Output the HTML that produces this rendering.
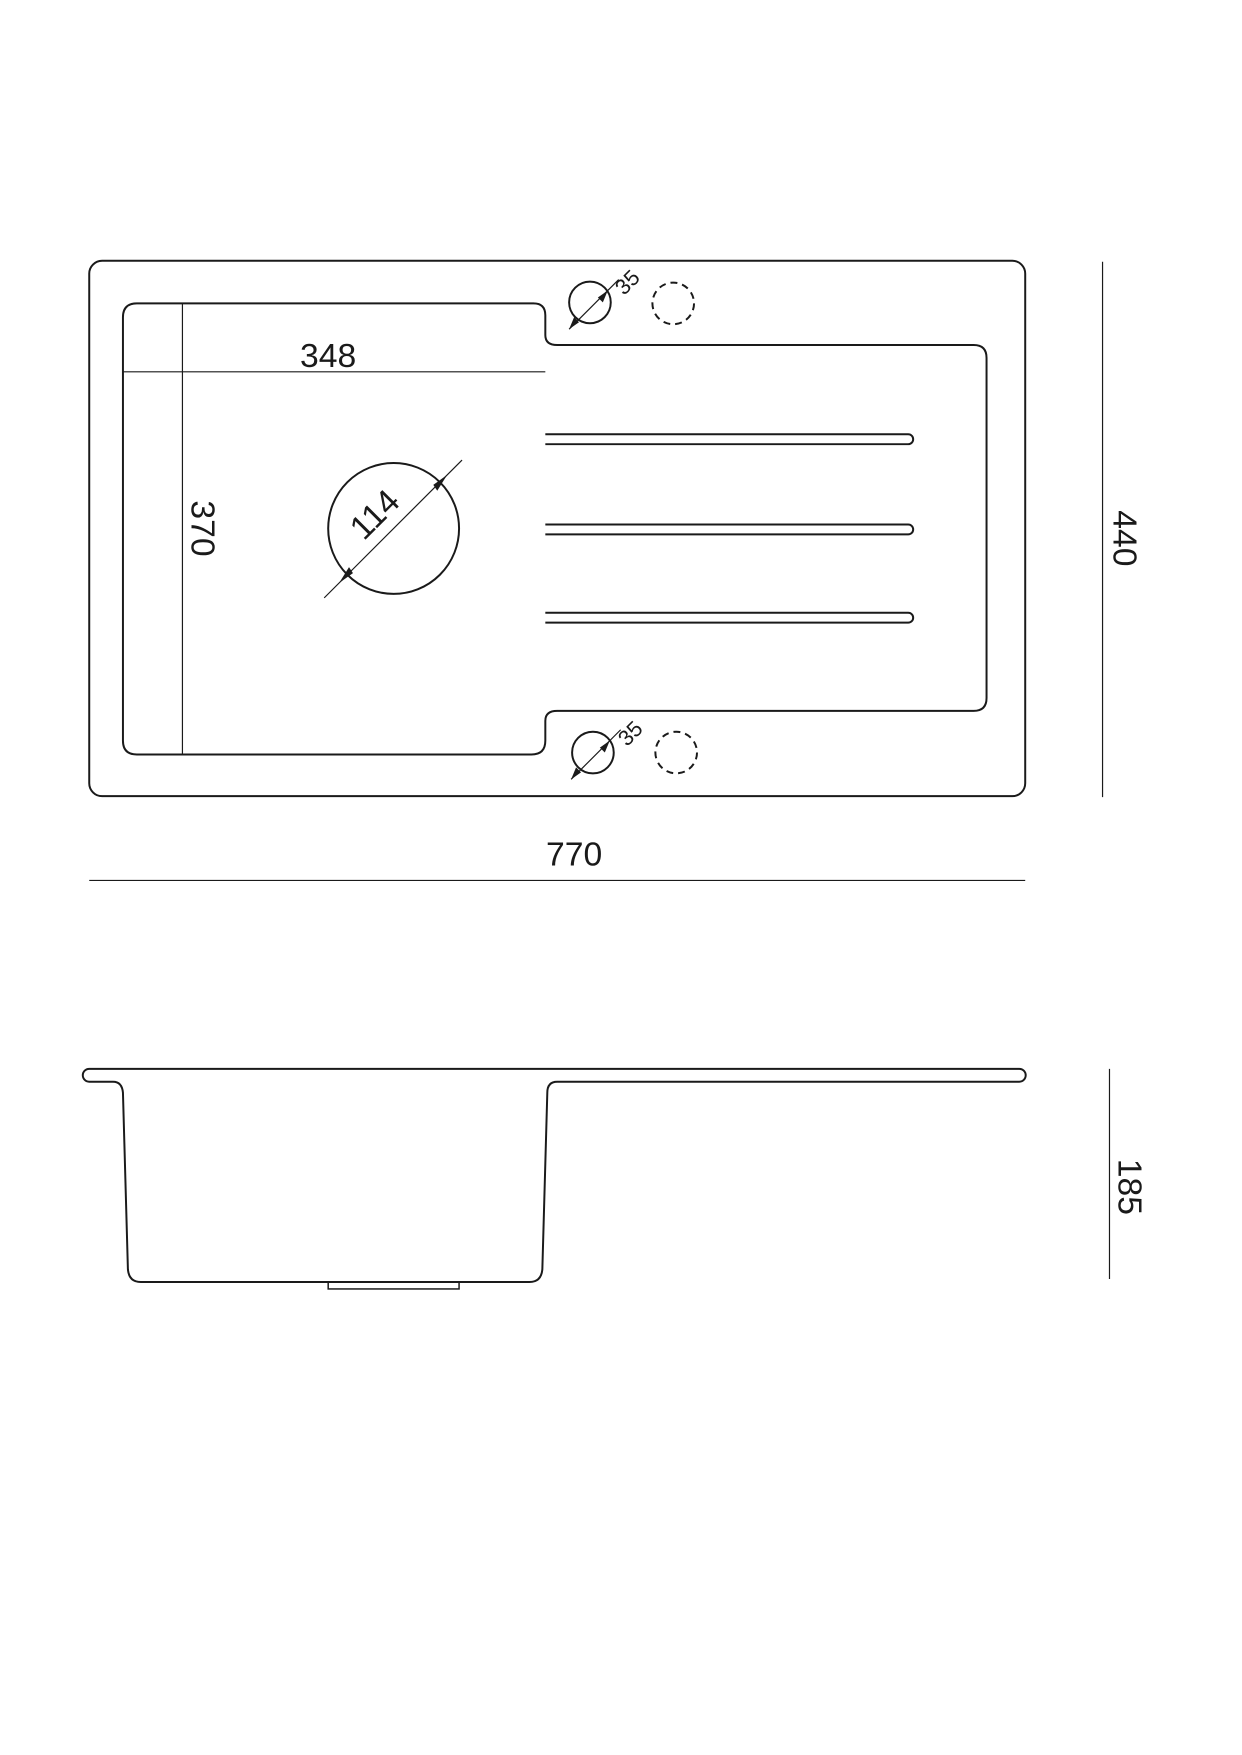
<!DOCTYPE html>
<html><head><style>body{margin:0;background:#fff}svg{display:block}</style></head><body>
<svg width="1242" height="1755" viewBox="0 0 1242 1755" xmlns="http://www.w3.org/2000/svg" font-family="Liberation Sans, sans-serif">
<g transform="scale(0.9915)">
<g fill="none" stroke="#1a1a1a" stroke-width="2">
<rect x="90" y="263" width="944" height="540" rx="13"/>
<path d="M138 306 H538 Q550 306 550 318 V338 Q550 348 562 348 H982 Q995 348 995 361 V704 Q995 717 982 717 H562 Q550 717 550 727 V747 Q550 761 536 761 H138 Q124 761 124 747 V320 Q124 306 138 306 Z"/>
<path d="M550 438 H916 a5 5 0 0 1 0 10 H550"/>
<path d="M550 529 H916 a5 5 0 0 1 0 10 H550"/>
<path d="M550 618 H916 a5 5 0 0 1 0 10 H550"/>
<circle cx="397" cy="533" r="66"/>
<circle cx="595" cy="305" r="21"/>
<circle cx="679" cy="306" r="21" stroke-dasharray="7 5"/>
<circle cx="598" cy="759" r="21"/>
<circle cx="682" cy="759" r="21" stroke-dasharray="7 5"/>
</g>
<g stroke="#1a1a1a" stroke-width="1.2" fill="none">
<line x1="124" y1="375" x2="550" y2="375"/>
<line x1="184" y1="306" x2="184" y2="761"/>
<line x1="327" y1="603" x2="466" y2="464"/>
<line x1="574" y1="332" x2="624" y2="282"/>
<line x1="576" y1="786" x2="626" y2="736"/>
<line x1="1112" y1="264" x2="1112" y2="804"/>
<line x1="90" y1="888" x2="1034" y2="888"/>
<line x1="1119" y1="1078" x2="1119" y2="1290"/>
</g>
<g fill="#1a1a1a">
<polygon points="342,588 352,572 356,578"/>
<polygon points="451,479 441,495 437,489"/>
<polygon points="574,332 579,320 584,325"/>
<polygon points="613,293 608,305 603,300"/>
<polygon points="576,786 581,774 586,779"/>
<polygon points="615,747 610,759 605,754"/>
</g>
<g fill="#1a1a1a" font-size="34">
<text x="331" y="370" text-anchor="middle">348</text>
<text x="579" y="873" text-anchor="middle">770</text>
<text transform="translate(193,533) rotate(90)" text-anchor="middle">370</text>
<text transform="translate(1123,543) rotate(90)" text-anchor="middle">440</text>
<text transform="translate(1128,1197) rotate(90)" text-anchor="middle">185</text>
<text transform="translate(386,527) rotate(-45)" text-anchor="middle">114</text>
<text transform="translate(638,290) rotate(-45)" text-anchor="middle" font-size="22">35</text>
<text transform="translate(641,745) rotate(-45)" text-anchor="middle" font-size="22">35</text>
</g>
<g fill="none" stroke="#1a1a1a" stroke-width="2">
<path d="M90 1078 H1028 a6 6 0 0 1 0 13 H562 Q552 1091 552 1102 L547 1280 Q546 1293 534 1293 H142 Q130 1293 129 1280 L124 1102 Q123 1091 114 1091 H90 a6 6 0 0 1 0 -13 Z"/>
<rect x="331" y="1293" width="132" height="7" stroke-width="1.5"/>
</g>
</g>
</svg>
</body></html>
